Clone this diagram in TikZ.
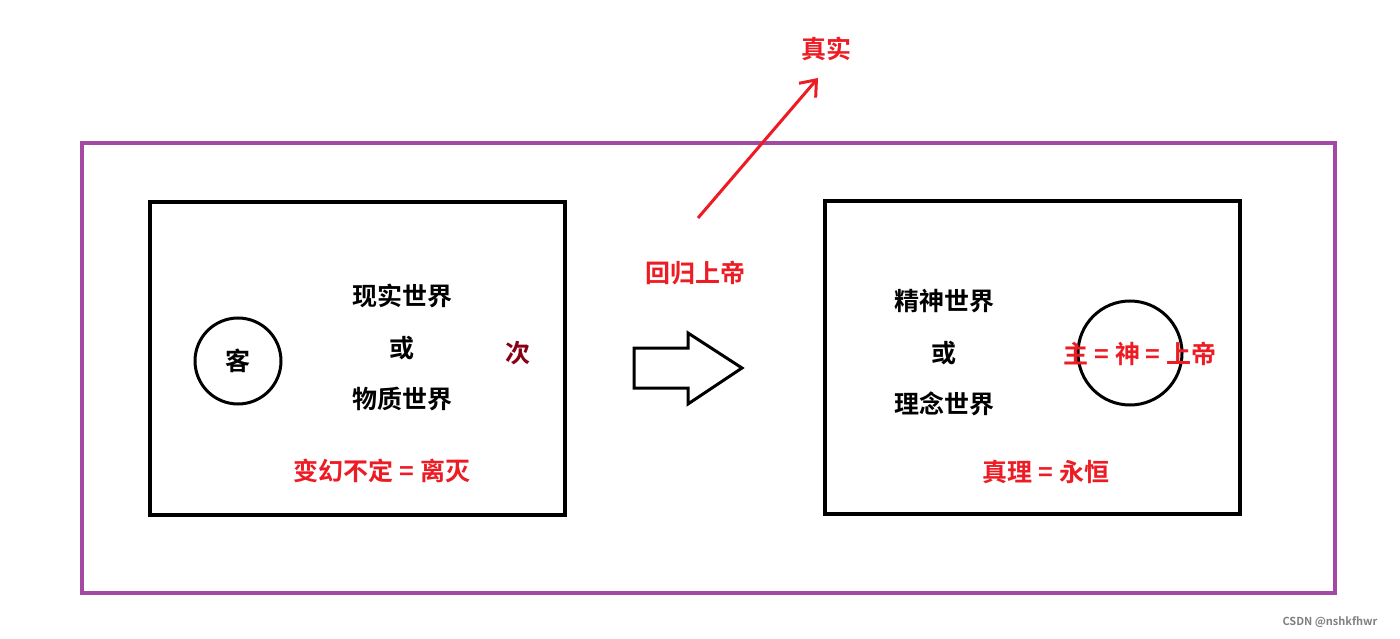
\documentclass[tikz,border=0pt]{standalone}
\usepackage{fontspec}
\usetikzlibrary{arrows.meta}
\setmainfont{Noto Sans CJK SC Bold}
\definecolor{pur}{HTML}{A349A4}
\definecolor{rd}{HTML}{ED1C24}
\definecolor{dr}{HTML}{880015}
\begin{document}
\begin{tikzpicture}[x=1pt,y=-1pt,
  t/.style={font=\fontsize{25}{25}\selectfont,inner sep=0pt},
  tr/.style={t,text=rd},
  box/.style={draw=black,line width=3.5pt}]
\useasboundingbox (0,0) rectangle (1400,639);
\draw[pur,line width=4pt] (82,143) rectangle (1335,593);
\draw[box] (150,202) rectangle (565,515);
\draw[box] (825,201) rectangle (1240,514);
\node[t,draw,circle,line width=3pt,minimum size=86pt] (ke) at (238,361) {客};
\node[t] (a1) at (402,296) {现实世界};
\node[t] (a2) at (402,348) {或};
\node[t] (a3) at (402,399) {物质世界};
\node[t,text=dr] (ci) at (518,353) {次};
\node[tr] (bh) at (382,471) {变幻不定 = 离灭};
\draw[line width=3pt] (1130,353) circle (52);
\node[t] (b1) at (944,301) {精神世界};
\node[t] (b2) at (944,353) {或};
\node[t] (b3) at (944,404) {理念世界};
\node[tr] (zs) at (1140,354) {主 = 神 = 上帝};
\node[tr] (zl) at (1046,472) {真理 = 永恒};
\node[tr] (hg) at (695,273) {回归上帝};
\node[tr] (zz) at (826,49) {真实};
\coordinate (s) at (698,218);
\coordinate (e) at (818,78);
\draw[rd,line width=3pt,-{Straight Barb[length=14pt,width=22pt]}] (s) -- (e);
\draw[line width=3pt,line join=miter] (634,348) -- (688,348) -- (688,333) -- (742,368) -- (688,404) -- (688,388) -- (634,388) -- cycle;
\node[font=\fontsize{11}{11}\selectfont,text=gray,inner sep=0pt] (wm) at (1330,622) {CSDN @nshkfhwr};
\end{tikzpicture}
\end{document}
